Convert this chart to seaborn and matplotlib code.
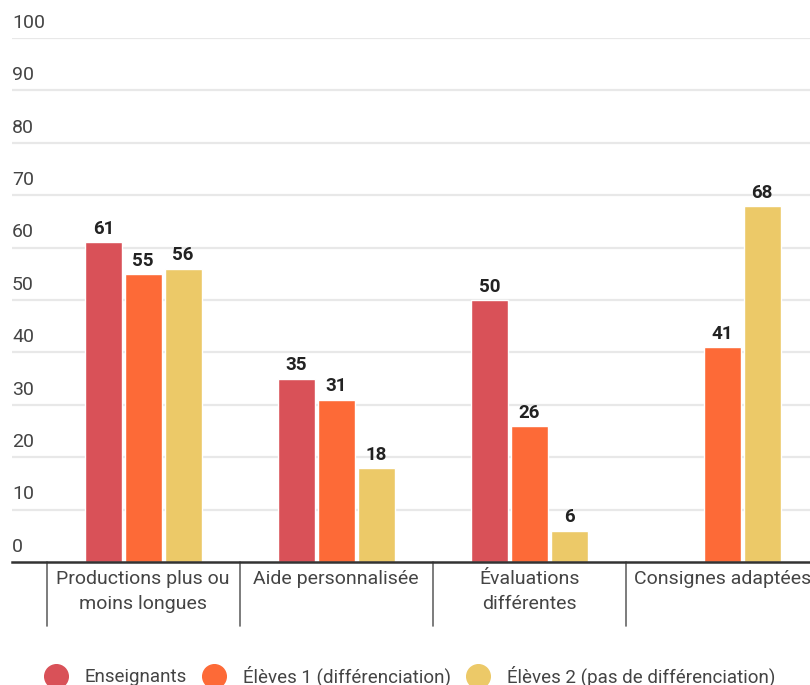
import matplotlib
matplotlib.use("Agg")
import matplotlib.pyplot as plt
import seaborn as sns
import pandas as pd
import numpy as np
from matplotlib.lines import Line2D

categories = ["Productions plus ou\nmoins longues", "Aide personnalisée", "Évaluations\ndifférentes", "Consignes adaptées"]
series = ["Enseignants", "Élèves 1 (différenciation)", "Élèves 2 (pas de différenciation)"]
enseignants = [61, 35, 50, np.nan]
eleves1 = [55, 31, 26, 41]
eleves2 = [56, 18, 6, 68]
yticks = [0, 10, 20, 30, 40, 50, 60, 70, 80, 90, 100]
colors = ["#D95158", "#FD6A37", "#ECC968"]

rows = []
for s, vals in zip(series, [enseignants, eleves1, eleves2]):
    for c, v in zip(categories, vals):
        if not np.isnan(v):
            rows.append({"cat": c, "serie": s, "val": v})
df = pd.DataFrame(rows)

sns.set_style("white")
plt.rcParams["font.family"] = ["Roboto", "DejaVu Sans"]

fig = plt.figure(figsize=(8.1, 6.85), dpi=100)
ax = fig.add_axes([12/810, 1-562/685, 1-12/810, (562-38)/685])

sns.barplot(data=df, x="cat", y="val", hue="serie", order=categories, hue_order=series,
            palette=colors, width=0.62, gap=0.07, ax=ax, legend=False, saturation=1,
            errorbar=None)

for cont in ax.containers:
    labels = [("%d" % b.get_height()) if not np.isnan(b.get_height()) else "" for b in cont]
    ax.bar_label(cont, labels=labels, padding=3, fontsize=13.5, fontweight="bold", color="#222222")

ax.set_ylim(0, 100)
ax.set_xlim(-0.68, 3.455)
ax.set_yticks(yticks)
ax.set_yticklabels([])
ax.tick_params(axis="y", length=0)
for v in yticks:
    if v > 0:
        ax.axhline(v, color="#e8e8e8", lw=1.6, zorder=0)
    ax.text(0.0, v + 1.2, str(v), transform=ax.get_yaxis_transform(), ha="left", va="bottom",
            fontsize=14, color="#444444")

ax.set_xticks(range(len(categories)))
ax.set_xticklabels(categories, fontsize=14, color="#444444", linespacing=1.5)
ax.tick_params(axis="x", length=0, pad=6)
ax.set_xlabel("")
ax.set_ylabel("")

for s in ["top", "right", "left"]:
    ax.spines[s].set_visible(False)
ax.spines["bottom"].set_color("#333333")
ax.spines["bottom"].set_linewidth(1.8)

for xs in [-0.5, 0.5, 1.5, 2.5]:
    ax.plot([xs, xs], [0, -(626-562)/524], transform=ax.get_xaxis_transform(),
            color="#666666", lw=1.2, clip_on=False)

handles = [Line2D([], [], marker="o", linestyle="", markersize=17, color=c) for c in colors]
fig.legend(handles, series, loc="center", bbox_to_anchor=(0.505, 1-676/685), ncol=3,
           frameon=False, fontsize=13.5, labelcolor="#444444", handletextpad=0.85,
           columnspacing=0.75, handlelength=1.4)

fig.savefig("out.png", dpi=100)
